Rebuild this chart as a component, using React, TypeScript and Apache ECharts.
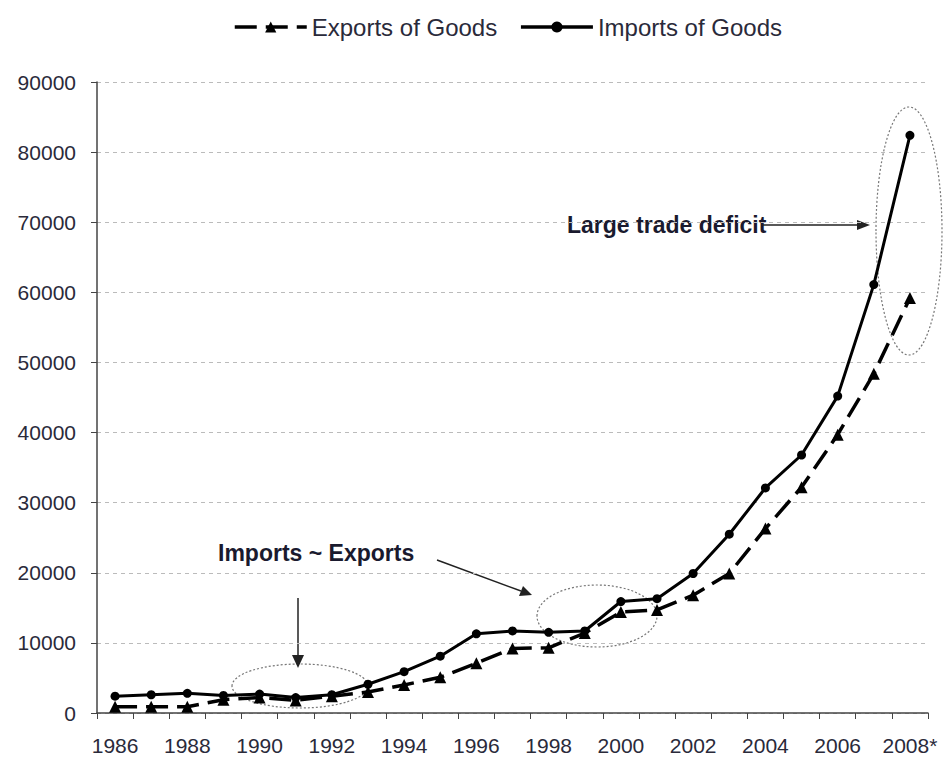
import React, { useEffect, useRef } from "react";
import * as echarts from "echarts";

const years = ["1986","1987","1988","1989","1990","1991","1992","1993","1994","1995","1996","1997","1998","1999","2000","2001","2002","2003","2004","2005","2006","2007","2008*"];
const importsOfGoods = [2400, 2600, 2800, 2500, 2700, 2200, 2600, 4100, 5900, 8100, 11300, 11700, 11500, 11700, 15900, 16300, 19900, 25500, 32100, 36800, 45200, 61100, 82400];
const exportsOfGoods = [900, 900, 900, 1900, 2200, 1800, 2400, 3000, 4000, 5100, 7100, 9200, 9300, 11400, 14400, 14700, 16800, 19900, 26300, 32200, 39700, 48400, 59200];
const yTicks = { min: 0, max: 90000, interval: 10000 };

const FONT = "'Liberation Sans', Arial, sans-serif";
const annColor = "#1a1a2e";

export default function App() {
  const ref = useRef<HTMLDivElement>(null);
  useEffect(() => {
    document.body.style.margin = "0";
    const chart = echarts.init(ref.current!, null, { renderer: "svg" });
    const arrowLine = (x1: number, y1: number, x2: number, y2: number) => ({
      type: "line",
      shape: { x1, y1, x2, y2 },
      style: { stroke: "#222", lineWidth: 1.5 },
      silent: true,
    });
    chart.setOption({
      animation: false,
      backgroundColor: "#fff",
      textStyle: { fontFamily: FONT },
      legend: {
        top: 10,
        left: 228,
        itemWidth: 72,
        itemHeight: 14,
        itemGap: 22,
        lineStyle: { width: 3.5 },
        textStyle: { fontSize: 24, color: "#2a2a3a", fontFamily: FONT },
        data: ["Exports of Goods", "Imports of Goods"],
      },
      grid: { left: 97, right: 15, top: 82, bottom: 47, containLabel: false },
      xAxis: {
        type: "category",
        data: years,
        boundaryGap: true,
        axisLine: { show: true, lineStyle: { color: "#444", width: 1.5 } },
        axisTick: { show: true, interval: 0, length: 6, lineStyle: { color: "#444" } },
        axisLabel: { interval: 1, fontSize: 21, color: "#2a2a3a", margin: 22, fontFamily: FONT },
      },
      yAxis: {
        type: "value",
        min: yTicks.min,
        max: yTicks.max,
        interval: yTicks.interval,
        axisLine: { show: true, lineStyle: { color: "#444", width: 1.5 } },
        axisTick: { show: true, length: 6, lineStyle: { color: "#444" } },
        axisLabel: { fontSize: 21, color: "#2a2a3a", margin: 21, fontFamily: FONT, formatter: (v: number) => String(v) },
        splitLine: { show: true, lineStyle: { color: "#bbb", type: [4, 4], width: 1 } },
      },
      series: [
        {
          name: "Exports of Goods",
          type: "line",
          data: exportsOfGoods,
          symbol: "triangle",
          symbolSize: 12,
          lineStyle: { color: "#000", width: 3.5, type: [22, 9] },
          itemStyle: { color: "#000" },
          z: 2,
        },
        {
          name: "Imports of Goods",
          type: "line",
          data: importsOfGoods,
          symbol: "circle",
          symbolSize: 9,
          lineStyle: { color: "#000", width: 3 },
          itemStyle: { color: "#000" },
          z: 3,
        },
      ],
      graphic: [
        {
          type: "ellipse",
          shape: { cx: 300, cy: 686, rx: 68, ry: 22 },
          style: { fill: "none", stroke: "#777", lineWidth: 1.2, lineDash: [2, 2] },
          silent: true,
        },
        {
          type: "ellipse",
          shape: { cx: 597, cy: 616, rx: 60, ry: 31 },
          style: { fill: "none", stroke: "#777", lineWidth: 1.2, lineDash: [2, 2] },
          silent: true,
        },
        {
          type: "ellipse",
          shape: { cx: 909, cy: 231, rx: 33, ry: 124 },
          style: { fill: "none", stroke: "#777", lineWidth: 1.2, lineDash: [2, 2] },
          silent: true,
        },
        {
          type: "text",
          x: 218,
          y: 553,
          style: { text: "Imports ~ Exports", font: `bold 23px ${FONT}`, fill: annColor, textVerticalAlign: "middle", verticalAlign: "middle" },
          silent: true,
        },
        {
          type: "text",
          x: 567,
          y: 225,
          style: { text: "Large trade deficit", font: `bold 23px ${FONT}`, fill: annColor, textVerticalAlign: "middle", verticalAlign: "middle" },
          silent: true,
        },
        arrowLine(298, 598, 298, 660),
        { type: "polygon", shape: { points: [[292, 655], [304, 655], [298, 668]] }, style: { fill: "#222" }, silent: true },
        arrowLine(437, 560, 521, 591),
        { type: "polygon", shape: { points: [[519, 596], [523, 586], [532, 595]] }, style: { fill: "#222" }, silent: true },
        arrowLine(762, 225, 860, 225),
        { type: "polygon", shape: { points: [[857, 220], [857, 230], [870, 225]] }, style: { fill: "#222" }, silent: true },
      ],
    });
    return () => chart.dispose();
  }, []);
  return <div ref={ref} style={{ width: 943, height: 760 }} />;
}
